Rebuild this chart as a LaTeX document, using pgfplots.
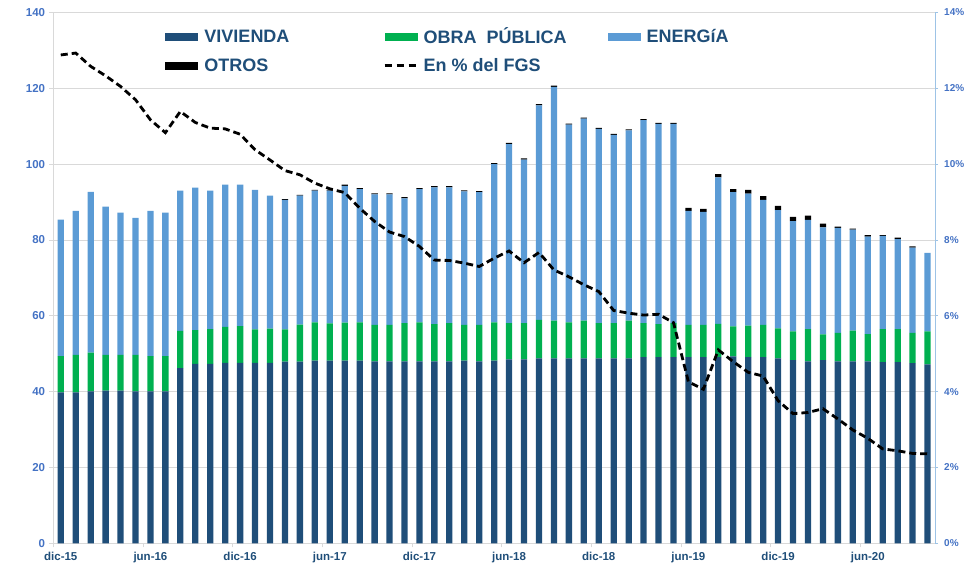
\documentclass[border=0pt]{standalone}
\usepackage{fontspec}
\setmainfont{Liberation Sans}
\usepackage{pgfplots}
\usepackage{pgfplotstable}
\pgfplotsset{compat=1.18}
\definecolor{viv}{HTML}{1F4E79}
\definecolor{obra}{HTML}{00B050}
\definecolor{ener}{HTML}{5B9BD5}
\definecolor{tickblue}{HTML}{4472C4}
\definecolor{gridc}{HTML}{D9D9D9}
\definecolor{raxis}{HTML}{9DC3E6}
\pgfplotstableread{
k viv obra ener otros pct
0 39.8 9.6 36.0 0 12.88
1 39.8 9.9 38.0 0 12.93
2 40.1 10.2 42.4 0 12.58
3 40.3 9.4 39.1 0 12.33
4 40.3 9.4 37.5 0 12.05
5 40.1 9.6 36.1 0 11.70
6 40.1 9.3 38.3 0 11.17
7 40.1 9.3 37.8 0 10.83
8 46.2 9.8 37.0 0 11.39
9 47.3 8.9 37.6 0 11.10
10 47.3 9.2 36.5 0 10.95
11 47.6 9.5 37.5 0 10.93
12 47.6 9.7 37.3 0 10.79
13 47.6 8.8 36.8 0 10.38
14 47.6 9.0 35.1 0 10.11
15 47.9 8.5 34.2 0.2 9.83
16 47.9 9.8 34.0 0.2 9.72
17 48.2 10.1 34.7 0.2 9.50
18 48.2 9.8 35.0 0.2 9.35
19 48.2 10.0 36.1 0.3 9.25
20 48.2 10.1 35.1 0.3 8.84
21 48.0 9.6 34.4 0.3 8.49
22 48.0 9.6 34.4 0.3 8.21
23 48.0 10.1 32.9 0.3 8.09
24 48.0 10.3 35.1 0.3 7.83
25 48.0 9.8 36.1 0.3 7.47
26 48.0 10.1 35.8 0.3 7.46
27 48.2 9.4 35.2 0.3 7.39
28 48.0 9.6 35.0 0.3 7.30
29 48.2 10.1 41.7 0.3 7.52
30 48.5 9.6 47.2 0.3 7.71
31 48.5 9.6 43.1 0.3 7.40
32 48.8 10.1 56.6 0.3 7.67
33 48.8 9.9 61.7 0.3 7.21
34 48.8 9.5 52.1 0.3 7.03
35 48.8 9.9 53.3 0.3 6.82
36 48.8 9.3 51.2 0.3 6.64
37 48.8 9.3 49.6 0.3 6.14
38 48.8 9.9 50.2 0.3 6.07
39 49.1 9.0 53.5 0.3 6.02
40 49.1 8.7 52.8 0.3 6.04
41 49.1 9.0 52.5 0.3 5.82
42 49.1 8.5 30.1 0.8 4.26
43 49.1 8.5 29.8 0.8 4.06
44 49.1 8.8 38.6 0.9 5.10
45 49.3 7.9 35.4 0.8 4.79
46 49.1 8.3 34.8 1.0 4.51
47 49.1 8.5 33.0 1.0 4.41
48 48.8 7.9 31.2 1.1 3.76
49 48.3 7.6 29.1 1.1 3.42
50 48.0 8.5 28.8 1.1 3.45
51 48.3 6.8 28.2 1.0 3.55
52 48.0 7.5 27.7 0.3 3.28
53 48.0 8.1 26.6 0.3 2.99
54 48.0 7.2 25.7 0.4 2.77
55 47.8 8.7 24.6 0.2 2.49
56 47.8 8.7 23.7 0.4 2.44
57 47.5 8.0 22.5 0.3 2.37
58 47.2 8.7 20.7 0.0 2.36
}\datatable
\begin{document}
\begin{tikzpicture}
\path[use as bounding box] (-53.3pt,-21.7pt) rectangle (914.7pt,543.3pt);
\begin{axis}[
  at={(0,0)}, anchor=south west,
  scale only axis, width=881.7pt, height=530.8pt,
  xmin=-0.5, xmax=58.5, ymin=0, ymax=140,
  ybar stacked, bar width=6.3pt,
  axis y line*=left, axis x line*=bottom,
  axis line style={gridc, line width=1pt},
  ymajorgrids, grid style={gridc, line width=0.9pt},
  ytick={0,20,...,140},
  xtick={-0.5,5.5,...,54},
  xticklabels={dic-15,jun-16,dic-16,jun-17,dic-17,jun-18,dic-18,jun-19,dic-19,jun-20},
  tick align=outside, major tick length=4pt,
  tick style={gridc, line width=0.9pt},
  /pgf/number format/assume math mode=true,
  yticklabel style={font=\bfseries\fontsize{11.5}{13}\selectfont, text=tickblue, inner sep=1pt, xshift=-3pt},
  xticklabel style={font=\bfseries\fontsize{11.5}{13}\selectfont, text=viv, xshift=7.47pt, inner sep=1pt, yshift=-4pt},
  legend columns=3,
  legend cell align=left,
  legend style={draw=none, fill=none, at={(0.127,0.975)}, anchor=north west,
    font=\bfseries\fontsize{18}{20}\selectfont, text=viv, row sep=9pt,
    inner sep=0pt, nodes={inner sep=2pt}},
  area legend,
  legend image code/.code={\fill[#1,draw=none] (0pt,-4pt) rectangle (33pt,4pt);},
]
\addplot[fill=viv, draw=none] table[x=k, y=viv] {\datatable};
\addlegendentry{\hspace{4pt}\makebox[177pt][l]{VIVIENDA}}
\addplot[fill=obra, draw=none] table[x=k, y=obra] {\datatable};
\addlegendentry{\hspace{4pt}\makebox[182pt][l]{OBRA\ \ PÚBLICA}}
\addplot[fill=ener, draw=none] table[x=k, y=ener] {\datatable};
\addlegendentry{\hspace{4pt}ENERGíA}
\addplot[fill=black, draw=none] table[x=k, y=otros] {\datatable};
\addlegendentry{\hspace{4pt}OTROS}
\addlegendimage{legend image code/.code={\draw[black, line width=2.5pt, dash pattern=on 7pt off 5pt] (0pt,0pt) -- (31pt,0pt);}}
\addlegendentry{\hspace{4pt}En \% del FGS}
\end{axis}
\begin{axis}[
  at={(0,0)}, anchor=south west,
  scale only axis, width=881.7pt, height=530.8pt,
  xmin=-0.5, xmax=58.5, ymin=0, ymax=14,
  axis y line*=right, axis x line=none,
  axis line style={raxis, line width=1pt},
  ytick={0,2,...,14},
  yticklabel={\pgfmathprintnumber{\tick}\%},
  tick align=outside, major tick length=3pt,
  tick style={raxis, line width=0.9pt},
  /pgf/number format/assume math mode=true,
  yticklabel style={font=\bfseries\fontsize{10}{12}\selectfont, text=tickblue, inner sep=1pt, xshift=5pt},
]
\addplot[black, line width=2.8pt, dash pattern=on 7pt off 4pt, mark=none] table[x=k, y=pct] {\datatable};
\end{axis}
\end{tikzpicture}
\end{document}
